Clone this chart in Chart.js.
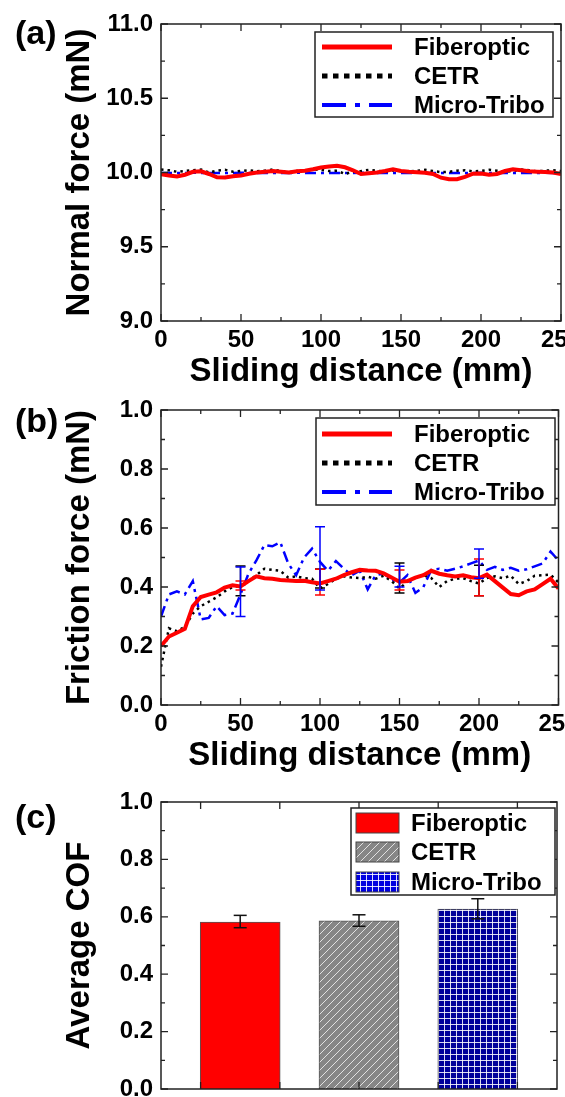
<!DOCTYPE html>
<html><head><meta charset="utf-8">
<script src="https://cdn.jsdelivr.net/npm/chart.js@4.4.0/dist/chart.umd.min.js"></script>
<style>
html,body{margin:0;padding:0;background:#fff;overflow:hidden;width:565px;height:1097px}
.p{position:absolute;left:0;width:565px}
canvas{display:block}
</style></head><body>
<div class="p" style="top:0;height:395px"><canvas id="ca" width="565" height="395"></canvas></div>
<div class="p" style="top:395px;height:395px"><canvas id="cb" width="565" height="395"></canvas></div>
<div class="p" style="top:790px;height:307px"><canvas id="cc" width="565" height="307"></canvas></div>
<script>
// ---------------- DATA ----------------
const seriesNames = ['Fiberoptic', 'CETR', 'Micro-Tribo'];
const distance = [0,5,10,15,20,25,30,35,40,45,50,55,60,65,70,75,80,85,90,95,100,105,110,115,120,125,130,135,140,145,150,155,160,165,170,175,180,185,190,195,200,205,210,215,220,225,230,235,240,245,250];
const xTickValues = [0,50,100,150,200,250];

// (a) normal force, mN
const normalFiberoptic = [9.989,9.980,9.973,9.985,10.005,10.008,9.990,9.968,9.966,9.975,9.980,9.992,10.000,10.005,10.010,10.005,10.000,10.008,10.012,10.022,10.034,10.040,10.045,10.035,10.015,9.990,9.995,10.000,10.010,10.022,10.010,10.005,10.002,9.998,9.990,9.965,9.955,9.955,9.970,9.992,9.993,9.985,9.990,10.010,10.022,10.015,10.008,10.005,10.003,10.000,9.990];
const normalCETR = [10.020,10.015,10.005,10.010,10.015,10.020,10.000,10.012,10.018,10.005,10.010,10.015,10.008,10.012,10.020,10.010,10.002,10.010,10.015,10.020,10.018,10.010,10.012,9.990,10.005,10.010,10.018,10.012,10.005,10.015,10.010,10.008,10.012,10.018,10.010,10.002,10.005,10.012,10.015,10.008,10.010,10.018,10.012,10.005,10.010,10.020,10.015,10.008,10.012,10.015,10.010];
const normalMicroTribo = [9.997,9.997,9.996,9.997,9.998,9.997,9.997,9.996,9.997,9.997,9.998,9.997,9.997,9.997,9.996,9.997,9.997,9.998,9.997,9.997,9.997,9.996,9.997,9.997,9.997,9.998,9.997,9.997,9.996,9.997,9.997,9.997,9.998,9.997,9.997,9.997,9.996,9.997,9.997,9.997,9.998,9.997,9.997,9.997,9.996,9.997,9.997,9.997,9.998,9.997,9.997];

// (b) friction force, mN
const frictionFiberoptic = [0.200,0.232,0.245,0.258,0.335,0.366,0.374,0.382,0.398,0.406,0.402,0.420,0.436,0.430,0.428,0.424,0.422,0.420,0.421,0.416,0.412,0.420,0.428,0.440,0.450,0.458,0.456,0.455,0.446,0.432,0.418,0.420,0.432,0.440,0.455,0.445,0.440,0.436,0.440,0.433,0.430,0.442,0.420,0.398,0.376,0.372,0.385,0.392,0.410,0.428,0.395];
const frictionCETR = [0.130,0.260,0.250,0.265,0.310,0.335,0.350,0.365,0.385,0.400,0.405,0.420,0.440,0.462,0.458,0.455,0.432,0.436,0.430,0.428,0.395,0.410,0.428,0.436,0.432,0.430,0.435,0.428,0.438,0.420,0.395,0.418,0.432,0.440,0.430,0.400,0.420,0.428,0.430,0.420,0.412,0.430,0.436,0.430,0.438,0.410,0.420,0.438,0.440,0.442,0.415];
const frictionMicroTribo = [0.300,0.375,0.385,0.375,0.420,0.290,0.295,0.335,0.305,0.310,0.375,0.445,0.490,0.542,0.538,0.552,0.480,0.440,0.500,0.530,0.485,0.455,0.488,0.462,0.440,0.455,0.392,0.440,0.446,0.425,0.415,0.440,0.380,0.400,0.458,0.462,0.455,0.462,0.470,0.480,0.490,0.458,0.468,0.458,0.465,0.455,0.460,0.470,0.480,0.520,0.490];
// error bars at these distances (low / high)
const errDistance = [50,100,150,200];
const errFiberopticLow  = [0.390,0.373,0.390,0.370];
const errFiberopticHigh = [0.420,0.460,0.458,0.495];
const errCETRLow  = [0.370,0.397,0.380,0.370];
const errCETRHigh = [0.471,0.461,0.481,0.474];
const errMicroTriboLow  = [0.300,0.390,0.400,0.430];
const errMicroTriboHigh = [0.468,0.604,0.470,0.529];

// (c) average COF
const barPositions = [1,2,3];
const avgCOF = [0.582,0.586,0.627];
const avgCOFLow  = [0.562,0.567,0.593];
const avgCOFHigh = [0.605,0.607,0.663];
const cTopTicks = [0.6667,1.3333,2,2.6667,3.3333];

// ---------------- STYLE ----------------
const FONT = "'Liberation Sans', Arial, sans-serif";
Chart.defaults.font.family = FONT;
Chart.defaults.color = '#000';
const RED='#ff0000', BLACK='#000000', BLUE='#0000ff';
const TICK_SIZE = 24, TITLE_SIZE = 33;

function hatchPattern(){
  const c=document.createElement('canvas'); c.width=8; c.height=8;
  const g=c.getContext('2d');
  g.fillStyle='#868686'; g.fillRect(0,0,8,8);
  g.strokeStyle='rgba(235,235,235,0.9)'; g.lineWidth=1;
  g.beginPath(); g.moveTo(-1,9); g.lineTo(9,-1); g.moveTo(-1,1); g.lineTo(1,-1); g.moveTo(7,9); g.lineTo(9,7); g.stroke();
  return g.createPattern(c,'repeat');
}
function gridPattern(base){
  const c=document.createElement('canvas'); c.width=6; c.height=6;
  const g=c.getContext('2d');
  g.fillStyle=base; g.fillRect(0,0,6,6);
  g.fillStyle='rgba(255,255,255,0.85)'; g.fillRect(0,0,6,1); g.fillRect(0,0,1,6);
  return g.createPattern(c,'repeat');
}

// frame + inward ticks (major & minor), on all four sides
const framePlugin = {
  id:'frame',
  afterDraw(chart, args, o){
    const {ctx, chartArea:a, scales} = chart;
    ctx.save();
    ctx.strokeStyle='#222'; ctx.lineWidth=1.5;
    ctx.strokeRect(a.left, a.top, a.right-a.left, a.bottom-a.top);
    ctx.lineWidth=1.3;
    const mids = v => { const m=[]; for(let i=0;i<v.length-1;i++) m.push((v[i]+v[i+1])/2); return m; };
    const drawX=(vals,len)=>{ vals.forEach(v=>{ const px=scales.x.getPixelForValue(v); if(px<a.left-0.5||px>a.right+0.5) return;
      ctx.beginPath(); ctx.moveTo(px,a.bottom); ctx.lineTo(px,a.bottom-len); ctx.moveTo(px,a.top); ctx.lineTo(px,a.top+len); ctx.stroke(); }); };
    const drawY=(vals,len)=>{ vals.forEach(v=>{ const py=scales.y.getPixelForValue(v);
      ctx.beginPath(); ctx.moveTo(a.left,py); ctx.lineTo(a.left+len,py); ctx.moveTo(a.right,py); ctx.lineTo(a.right-len,py); ctx.stroke(); }); };
    const yMaj = scales.y.ticks.map(t=>t.value);
    drawY(yMaj,7); drawY(mids(yMaj),4);
    if (o.xMajor){ drawX(o.xMajor,7); if(o.xMinor!==false) drawX(mids(o.xMajor),4); }
    ctx.restore();
  }
};
const labelPlugin = {
  id:'panelLabel',
  afterDraw(chart, args, o){
    const ctx=chart.ctx; ctx.save();
    ctx.font="bold 34px "+FONT; ctx.fillStyle='#000'; ctx.textBaseline='alphabetic'; ctx.textAlign='left';
    ctx.fillText(o.text, o.x, o.y); ctx.restore();
  }
};
function drawBoxLegend(chart, o, fills){
  const ctx=chart.ctx; ctx.save();
  ctx.fillStyle='#fff'; ctx.fillRect(o.x,o.y,o.w,o.h);
  ctx.strokeStyle='#222'; ctx.lineWidth=1.5; ctx.strokeRect(o.x,o.y,o.w,o.h);
  const items = chart.data.datasets.filter(d=>!d.isErr);
  items.forEach((d,i)=>{
    const y=o.rows[i];
    if (o.kind==='line'){
      ctx.strokeStyle=d.borderColor; ctx.lineWidth=d.legendWidth; ctx.lineCap='butt';
      ctx.setLineDash(d.legendDash||[]);
      ctx.beginPath(); ctx.moveTo(o.sx,y); ctx.lineTo(o.sx+o.sw,y); ctx.stroke();
      ctx.setLineDash([]);
    } else {
      ctx.fillStyle=fills ? fills[i] : d.backgroundColor; ctx.fillRect(o.sx,y-10,o.sw,20);
      ctx.strokeStyle='#444'; ctx.lineWidth=1; ctx.strokeRect(o.sx,y-10,o.sw,20);
    }
    ctx.fillStyle='#000'; ctx.font="bold 24px "+FONT; ctx.textBaseline='middle'; ctx.textAlign='left';
    ctx.fillText(d.label, o.tx, y+1);
  });
  ctx.restore();
}
const boxLegendPlugin = { id:'boxLegend', afterDraw(chart, args, o){ drawBoxLegend(chart, o, o.fills); } };

function yAxis(min,max,step,title){
  return { type:'linear', min, max, position:'left',
    grid:{display:false, drawTicks:false}, border:{display:false},
    ticks:{stepSize:step, autoSkip:false, font:{size:TICK_SIZE, weight:'bold'}, color:'#000', padding:8, callback:v=>Number(v).toFixed(1)},
    title:{display:true, text:title, font:{size:TITLE_SIZE, weight:'bold'}, color:'#000', padding:{top:60,bottom:0}},
    afterFit(s){ s.width=161; s.paddingTop=0; s.paddingBottom=0; } };
}
function xAxisMM(){
  return { type:'linear', min:0, max:250, position:'bottom',
    grid:{display:false, drawTicks:false}, border:{display:false},
    afterBuildTicks(s){ s.ticks = xTickValues.map(v=>({value:v})); },
    ticks:{autoSkip:false, maxRotation:0, minRotation:0, font:{size:TICK_SIZE, weight:'bold'}, color:'#000', padding:5},
    title:{display:true, text:'Sliding distance (mm)', font:{size:TITLE_SIZE, weight:'bold'}, color:'#000', padding:{top:0,bottom:3}},
    afterFit(s){ s.height=74; s.paddingLeft=0; s.paddingRight=0; } };
}
const pts = ys => distance.map((x,i)=>({x, y:ys[i]}));
function lineSets(a,b,c){
  return [
    {label:seriesNames[0], data:pts(a), borderColor:RED, borderWidth:4, pointRadius:0, legendWidth:5, order:1},
    {label:seriesNames[1], data:pts(b), borderColor:BLACK, borderWidth:2.5, borderDash:[2.5,4], pointRadius:0, legendWidth:5, legendDash:[5.5,5.5], order:2},
    {label:seriesNames[2], data:pts(c), borderColor:BLUE, borderWidth:2.5, borderDash:[11,5,3,5], pointRadius:0, legendWidth:4, legendDash:[24,9,5,9], order:3},
  ];
}
function errSet(x, lo, hi, color, w, r){
  return {type:'line', isErr:true, data:[{x, y:lo},{x, y:hi}], borderColor:color, borderWidth:w,
    pointStyle:'line', pointRadius:r, pointHoverRadius:r, pointBorderColor:color, pointBorderWidth:w, order:0};
}
const common = (extra)=>Object.assign({responsive:false, animation:false, events:[]}, extra);

// ---------------- (a) ----------------
new Chart(document.getElementById('ca'), {
  type:'line',
  data:{datasets: lineSets(normalFiberoptic, normalCETR, normalMicroTribo)},
  options: common({
    layout:{padding:{left:0, right:4, top:24, bottom:0}},
    scales:{ x:xAxisMM(), y:yAxis(9,11,0.5,'Normal force (mN)') },
    plugins:{legend:{display:false}, tooltip:{enabled:false},
      frame:{xMajor:xTickValues},
      panelLabel:{text:'(a)', x:15, y:44},
      boxLegend:{kind:'line', x:315, y:32, w:238, h:85, rows:[47,76,105], sx:322, sw:70, tx:414}}
  }),
  plugins:[framePlugin, labelPlugin, boxLegendPlugin]
});

// ---------------- (b) ----------------
const errSetsB = [];
errDistance.forEach((x,i)=>{
  errSetsB.push(errSet(x, errMicroTriboLow[i], errMicroTriboHigh[i], BLUE, 1.5, 5));
  errSetsB.push(errSet(x, errFiberopticLow[i], errFiberopticHigh[i], RED, 1.5, 5));
  errSetsB.push(errSet(x, errCETRLow[i], errCETRHigh[i], BLACK, 1.5, 5));
});
new Chart(document.getElementById('cb'), {
  type:'line',
  data:{datasets: lineSets(frictionFiberoptic, frictionCETR, frictionMicroTribo).concat(errSetsB)},
  options: common({
    layout:{padding:{left:0, right:4, top:15, bottom:11}},
    scales:{ x:xAxisMM(), y:yAxis(0,1,0.2,'Friction force (mN)') },
    plugins:{legend:{display:false}, tooltip:{enabled:false},
      frame:{xMajor:xTickValues},
      panelLabel:{text:'(b)', x:15, y:37},
      boxLegend:{kind:'line', x:316, y:23, w:239, h:87, rows:[39,68,97], sx:322, sw:70, tx:414}}
  }),
  plugins:[framePlugin, labelPlugin, boxLegendPlugin]
});

// ---------------- (c) ----------------
const barFills = [RED, hatchPattern(), gridPattern('#00009a')];
const legendFills = [RED, hatchPattern(), gridPattern('#0000e0')];
const barSets = barPositions.map((x,i)=>({type:'bar', label:seriesNames[i], data:[{x, y:avgCOF[i]}],
  backgroundColor:barFills[i], borderColor:'#555', borderWidth:1, barThickness:80, grouped:false, order:2}));
const errSetsC = barPositions.map((x,i)=>errSet(x, avgCOFLow[i], avgCOFHigh[i], '#111', 1.5, 6.5));
new Chart(document.getElementById('cc'), {
  type:'bar',
  data:{datasets: barSets.concat(errSetsC)},
  options: common({
    layout:{padding:{left:0, right:4, top:12, bottom:1}},
    scales:{
      x:{type:'linear', min:1/3, max:11/3, offset:false, display:false, grid:{display:false}},
      y:yAxis(0,1,0.2,'Average COF') },
    plugins:{legend:{display:false}, tooltip:{enabled:false},
      frame:{xMajor:cTopTicks, xMinor:false},
      panelLabel:{text:'(c)', x:15, y:38},
      boxLegend:{kind:'bar', x:351, y:18, w:204, h:87, rows:[33,62,92], sx:356, sw:43, tx:411, fills:legendFills}}
  }),
  plugins:[framePlugin, labelPlugin, boxLegendPlugin]
});
</script>
</body></html>
